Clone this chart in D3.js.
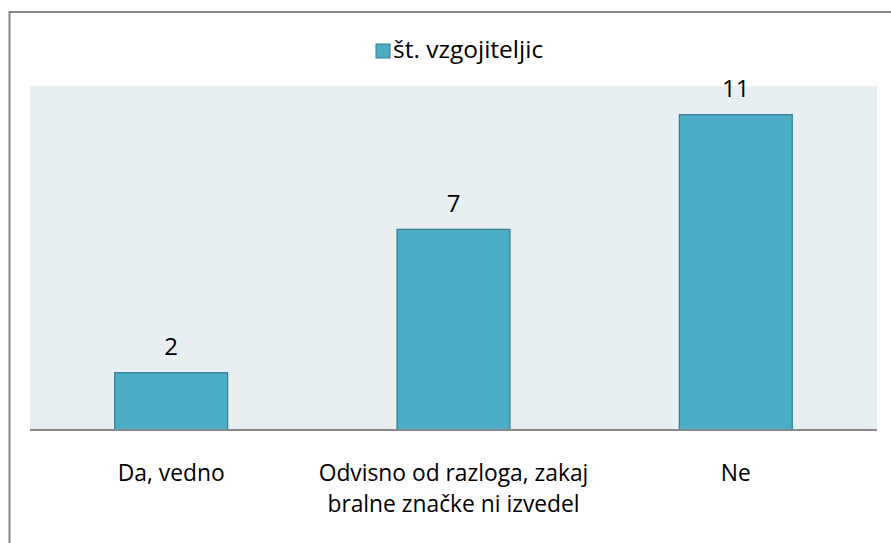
<!DOCTYPE html>
<html>
<head>
<meta charset="utf-8">
<script src="https://d3js.org/d3.v7.min.js"></script>
<style>
body { margin: 0; background: #fff; }
text { font-family: "Open Sans", sans-serif; fill: #000; }
</style>
</head>
<body>
<div id="chart"></div>
<script>
// data
var categories = ["Da, vedno", "Odvisno od razloga, zakaj bralne značke ni izvedel", "Ne"];
var categoryLines = [["Da, vedno"], ["Odvisno od razloga, zakaj", "bralne značke ni izvedel"], ["Ne"]];
var values = [2, 7, 11];
var seriesName = "št. vzgojiteljic";

var width = 891, height = 543;
var plotLeft = 30, plotRight = 877, plotTop = 86, plotBottom = 430;

var svg = d3.select("#chart").append("svg")
	.attr("width", width)
	.attr("height", height);

// outer frame (runs off the right and bottom edge)
svg.append("rect")
	.attr("x", 9.5).attr("y", 12)
	.attr("width", 920).attr("height", 600)
	.attr("fill", "#fff")
	.attr("stroke", "#868686")
	.attr("stroke-width", 2);

var x = d3.scaleBand()
	.domain(categories)
	.range([plotLeft, plotRight])
	.paddingInner(0.6)
	.paddingOuter(0.3);

var y = d3.scaleLinear()
	.domain([0, 12])
	.range([plotBottom, plotTop]);

// plot background
svg.append("rect")
	.attr("x", plotLeft).attr("y", y(12))
	.attr("width", plotRight - plotLeft)
	.attr("height", y(0) - y(12))
	.attr("fill", "#e8eff3");

svg.selectAll(".bar")
	.data(values)
	.enter().append("rect")
	.attr("class", "bar")
	.attr("x", function(d, i) { return x(categories[i]); })
	.attr("y", function(d) { return y(d); })
	.attr("width", x.bandwidth())
	.attr("height", function(d) { return y(0) - y(d); })
	.attr("fill", "#4bacc6")
	.attr("stroke", "#357d91")
	.attr("stroke-width", 1.2);

svg.selectAll(".val")
	.data(values)
	.enter().append("text")
	.attr("class", "val")
	.attr("x", function(d, i) { return x(categories[i]) + x.bandwidth() / 2; })
	.attr("y", function(d) { return y(d) - 17.3; })
	.attr("text-anchor", "middle")
	.style("font-size", "24px")
	.text(function(d) { return d; });

// x axis line
svg.append("line")
	.attr("x1", plotLeft).attr("x2", plotRight)
	.attr("y1", y(0)).attr("y2", y(0))
	.attr("stroke", "#888")
	.attr("stroke-width", 2);

var labels = svg.selectAll(".cat")
	.data(categoryLines)
	.enter().append("text")
	.attr("class", "cat")
	.attr("text-anchor", "middle")
	.style("font-size", "22.8px")
	.attr("transform", function(d, i) {
		return "translate(" + (x(categories[i]) + x.bandwidth() / 2) + ",481)";
	});

labels.selectAll("tspan")
	.data(function(d) { return d; })
	.enter().append("tspan")
	.attr("x", 0)
	.attr("y", function(d, i) { return i * 31; })
	.text(function(d) { return d; });

// legend
var legend = svg.append("g").attr("transform", "translate(376,44)");
legend.append("rect")
	.attr("width", 14).attr("height", 14)
	.attr("fill", "#4bacc6")
	.attr("stroke", "#357d91");
legend.append("text")
	.attr("x", 17).attr("y", 14)
	.style("font-size", "24.5px")
	.text(seriesName);
</script>
</body>
</html>
